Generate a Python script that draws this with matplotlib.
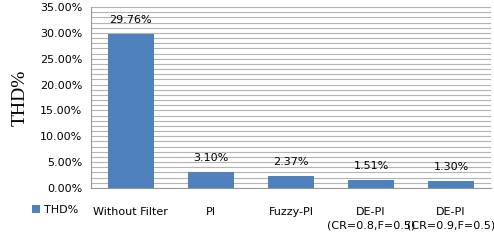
import matplotlib
matplotlib.use("Agg")
import matplotlib.pyplot as plt
from matplotlib.ticker import MultipleLocator, FuncFormatter

categories = ["Without Filter", "PI", "Fuzzy-PI", "DE-PI\n(CR=0.8,F=0.5)", "DE-PI\n(CR=0.9,F=0.5)"]
values = [29.76, 3.10, 2.37, 1.51, 1.30]
series_name = "THD%"

fig = plt.figure(figsize=(4.94, 2.45), dpi=100)
ax = fig.add_axes([0.184, 0.233, 0.81, 0.738])
color = "#4F81BD"
x = list(range(len(categories)))
bars = ax.bar(x, values, width=0.57, color=color, zorder=3, label=series_name)
ax.set_xlim(-0.5, len(categories) - 0.5)
ax.set_ylim(0, 35)
ax.yaxis.set_major_locator(MultipleLocator(5))
ax.yaxis.set_minor_locator(MultipleLocator(1))
ax.yaxis.set_major_formatter(FuncFormatter(lambda v, p: f"{v:.2f}%"))
ax.grid(axis="y", which="both", color="#B3B3B3", linewidth=0.8, zorder=0)
ax.tick_params(axis="y", which="both", length=0, labelsize=8, pad=6)
ax.tick_params(axis="x", length=0, labelsize=8, pad=14)
ax.set_xticks(x)
ax.set_xticklabels(categories, linespacing=1.4)
for lab in ax.get_xticklabels():
    lab.set_verticalalignment("top")
for s in ["top", "right"]:
    ax.spines[s].set_visible(False)
for s in ["left", "bottom"]:
    ax.spines[s].set_color("#999999")
for xi, v in zip(x, values):
    ax.annotate(f"{v:.2f}%", (xi, v), xytext=(0, 6.5), textcoords="offset points",
                ha="center", va="bottom", fontsize=8)
ax.set_ylabel("THD%", fontfamily="Liberation Serif", fontsize=14, labelpad=8)
fig.legend(handles=[bars], labels=[series_name], loc="center left",
           bbox_to_anchor=(0.045, 0.143), frameon=False, fontsize=8,
           handlelength=0.7, handleheight=0.7, handletextpad=0.4)
fig.savefig("out.png", dpi=100)
